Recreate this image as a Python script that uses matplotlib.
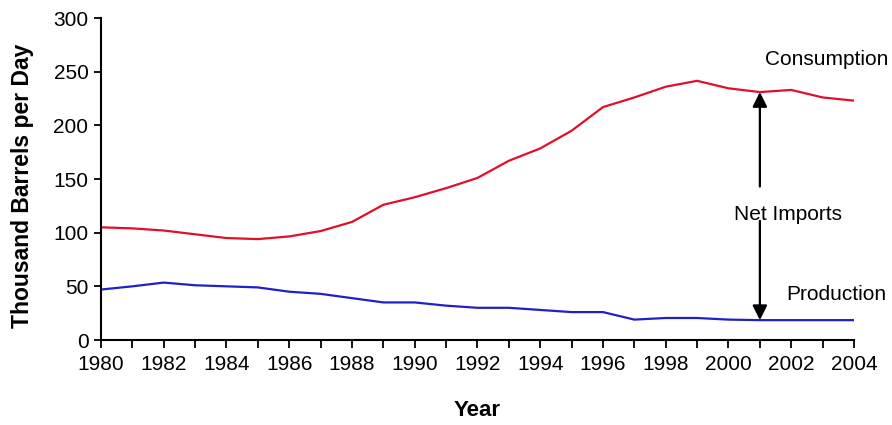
#!/usr/bin/env python3
from matplotlib import pyplot as plt

plt.rcParams['font.family'] = ['Liberation Sans', 'DejaVu Sans']

years = list(range(1980, 2005))
consumption = [105, 104, 102, 98.5, 95, 94, 96.5, 101.5, 110, 126, 133, 141.5, 151,
               167, 178.5, 195, 217, 226, 236, 241.5, 234.5, 231, 233, 226, 223]
production = [47, 50, 53.5, 51, 50, 49, 45, 43, 39, 35, 35, 32, 30,
              30, 28, 26, 26, 19, 20.5, 20.5, 19, 18.5, 18.5, 18.5, 18.5]

fig = plt.figure(figsize=(8.92, 4.25), dpi=100)
ax = fig.add_axes([0.1132, 0.2, 0.9574 - 0.1132, 0.9576 - 0.2])

ax.plot(years, consumption, color='#e0102a', lw=1.6)
ax.plot(years, production, color='#2020c8', lw=1.6)

ax.set_xlim(1980, 2004)
ax.set_ylim(0, 300)
ax.set_xticks(years)
ax.set_xticklabels([str(y) if y % 2 == 0 else '' for y in years], fontsize=15)
ax.set_yticks(range(0, 301, 50))
ax.tick_params(axis='y', labelsize=15, direction='out', length=5, width=1.3, pad=4)
ax.tick_params(axis='x', direction='out', length=6, width=1.3, pad=5)

for side in ['top', 'right']:
    ax.spines[side].set_visible(False)
for side in ['left', 'bottom']:
    ax.spines[side].set_linewidth(1.5)

ax.set_ylabel('Thousand Barrels per Day', fontsize=16.5, fontweight='bold')
ax.yaxis.set_label_coords(-0.089, 0.48)
ax.set_xlabel('Year', fontsize=16, fontweight='bold')
ax.xaxis.set_label_coords(0.5, -0.185)

# labels and net-import arrows
ax.text(2001.15, 261, 'Consumption', fontsize=15, va='center', ha='left', clip_on=False)
ax.text(2001.85, 42, 'Production', fontsize=15, va='center', ha='left', clip_on=False)
ax.text(2001.9, 116.5, 'Net Imports', fontsize=15, va='center', ha='center')

arrow = dict(arrowstyle='-|>', color='black', lw=1.6, mutation_scale=22, shrinkA=0, shrinkB=0)
ax.annotate('', xy=(2001, 231), xytext=(2001, 143), arrowprops=arrow)
ax.annotate('', xy=(2001, 18.5), xytext=(2001, 111), arrowprops=arrow)

fig.savefig('out.png', dpi=100)
